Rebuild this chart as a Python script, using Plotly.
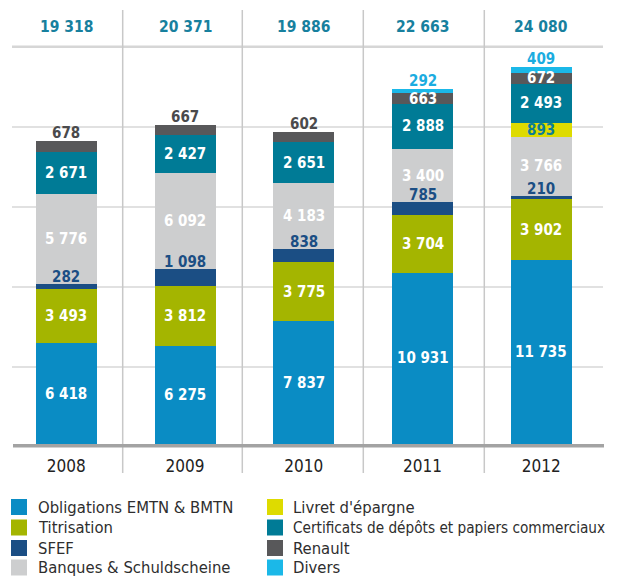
import numpy as np
import plotly.graph_objects as go

years = ["2008", "2009", "2010", "2011", "2012"]
totals = [19318, 20371, 19886, 22663, 24080]

obligations = [6418, 6275, 7837, 10931, 11735]
titrisation = [3493, 3812, 3775, 3704, 3902]
sfef = [282, 1098, 838, 785, 210]
banques = [5776, 6092, 4183, 3400, 3766]
livret = [None, None, None, None, 893]
certificats = [2671, 2427, 2651, 2888, 2493]
renault = [678, 667, 602, 663, 672]
divers = [None, None, None, 292, 409]

series = [
    ("Obligations EMTN & BMTN", obligations, "#0a8cc4"),
    ("Titrisation", titrisation, "#a4b500"),
    ("SFEF", sfef, "#1b4e84"),
    ("Banques & Schuldscheine", banques, "#cdcecf"),
    ("Livret d'épargne", livret, "#dedb00"),
    ("Certificats de dépôts et papiers commerciaux", certificats, "#007b96"),
    ("Renault", renault, "#58585a"),
    ("Divers", divers, "#1bb8e8"),
]
legend_order = [
    ["Obligations EMTN & BMTN", "Titrisation", "SFEF", "Banques & Schuldscheine"],
    ["Livret d'épargne", "Certificats de dépôts et papiers commerciaux", "Renault", "Divers"],
]

NUM_FONT = "DejaVu Sans Condensed, Liberation Sans Narrow, sans-serif"
TXT_FONT = "DejaVu Sans Condensed, Liberation Sans Narrow, sans-serif"

# the page body has an 8px margin, so the figure starts at screen (8, 8)
OFF = 8.0
FW, FH = 617.0 - OFF, 576.0 - OFF
# plot area in screen pixels
PL, PR, PT, PB = 8.0, 605.0, 10.0, 444.0
SLOT = 118.75          # px per category
FIRST_CENTER = 66.3    # screen x of first category centre
PX_PER_UNIT = 0.015669


def fmt(v):
    return f"{v:,}".replace(",", " ")


def fy(s):  # paper y from screen pixel (margins are 0)
    return (FH - (s - OFF)) / FH


def fx(s):
    return (s - OFF) / FW


x_lo = (PL - FIRST_CENTER) / SLOT
x_hi = x_lo + (PR - PL) / SLOT

fig = go.Figure()
for name, vals, color in series:
    fig.add_trace(go.Bar(
        x=years, y=vals, name=name, marker=dict(color=color, line=dict(width=0)),
        width=61 / SLOT, hoverinfo="skip", showlegend=False,
    ))

annotations = []
base = np.zeros(len(years))
for name, vals, color in series:
    for i, v in enumerate(vals):
        if v is None:
            continue
        top = float(base[i] + v)
        mid = float(base[i] + v / 2)
        txt = "<b>" + fmt(v) + "</b>"
        if name == "SFEF":
            a = dict(y=top, yanchor="bottom", yshift=-4, color="#1b4e84")
        elif name == "Divers":
            a = dict(y=top, yanchor="bottom", yshift=-3, color="#1bace0")
        elif name == "Renault" and divers[i] is None:
            a = dict(y=top, yanchor="bottom", yshift=-3, color="#4a4a4c")
        elif name == "Livret d'épargne":
            a = dict(y=mid, yanchor="middle", yshift=0, color="#0d7d98")
        else:
            a = dict(y=mid, yanchor="middle", yshift=0, color="#ffffff")
        annotations.append(dict(
            x=i, y=a["y"], xref="x", yref="y", text=txt, showarrow=False,
            yanchor=a["yanchor"], yshift=a["yshift"],
            font=dict(family=NUM_FONT, size=15, color=a["color"]),
        ))
        base[i] += v

for i, t in enumerate(totals):
    annotations.append(dict(
        x=i, y=fy(27), xref="x", yref="paper", text="<b>" + fmt(t) + "</b>",
        showarrow=False, yanchor="middle",
        font=dict(family=NUM_FONT, size=15.5, color="#17809e"),
    ))

# manual legend
colors = {n: c for n, _, c in series}
shapes = []
row_y = [507, 527.5, 548, 567.5]
col_sw = [11, 267]
col_tx = [36, 291]
for c, names in enumerate(legend_order):
    for r, n in enumerate(names):
        shapes.append(dict(type="rect", xref="paper", yref="paper",
                           x0=fx(col_sw[c]), x1=fx(col_sw[c] + 16),
                           y0=fy(row_y[r] + 8), y1=fy(row_y[r] - 8),
                           fillcolor=colors[n], line=dict(width=0)))
        size = 15.2 if len(n) > 30 else 16.5
        annotations.append(dict(x=fx(col_tx[c]), y=fy(row_y[r]), xref="paper", yref="paper",
                                text=n, showarrow=False, xanchor="left", yanchor="middle",
                                font=dict(family=TXT_FONT, size=size, color="#2e2e2e")))

# decorative lines
for g in [127, 207, 287, 367]:
    shapes.append(dict(type="line", xref="paper", yref="paper", x0=fx(12), x1=fx(603),
                       y0=fy(g), y1=fy(g), line=dict(color="#c4c4c4", width=1.2), layer="below"))
shapes.append(dict(type="line", xref="paper", yref="paper", x0=fx(12), x1=fx(603),
                   y0=fy(46.7), y1=fy(46.7), line=dict(color="#d6d6d6", width=2.5), layer="below"))
for sx in [122.7, 242.3, 363.3, 484.3]:
    shapes.append(dict(type="line", xref="paper", yref="paper", x0=fx(sx), x1=fx(sx),
                       y0=fy(473), y1=fy(10), line=dict(color="#c8c8c8", width=1.5), layer="below"))
shapes.append(dict(type="line", xref="paper", yref="paper", x0=fx(13), x1=fx(604),
                   y0=fy(445.7), y1=fy(445.7), line=dict(color="#a3a3a3", width=3.5), layer="above"))

fig.update_layout(
    width=FW, height=FH,
    margin=dict(l=0, r=0, t=0, b=0, autoexpand=False),
    paper_bgcolor="white", plot_bgcolor="rgba(0,0,0,0)",
    barmode="stack",
    showlegend=False,
    xaxis=dict(type="category", domain=[fx(PL), fx(PR)], range=[x_lo, x_hi],
               showgrid=False, zeroline=False, showline=False, ticks="", ticklabelstandoff=10,
               tickfont=dict(family=TXT_FONT, size=17, color="#222222")),
    yaxis=dict(domain=[fy(PB), fy(PT)], range=[0, (PB - PT) / PX_PER_UNIT],
               showgrid=False, zeroline=False, showline=False, showticklabels=False, ticks=""),
    annotations=annotations,
    shapes=shapes,
)

fig.write_html("out.html")
